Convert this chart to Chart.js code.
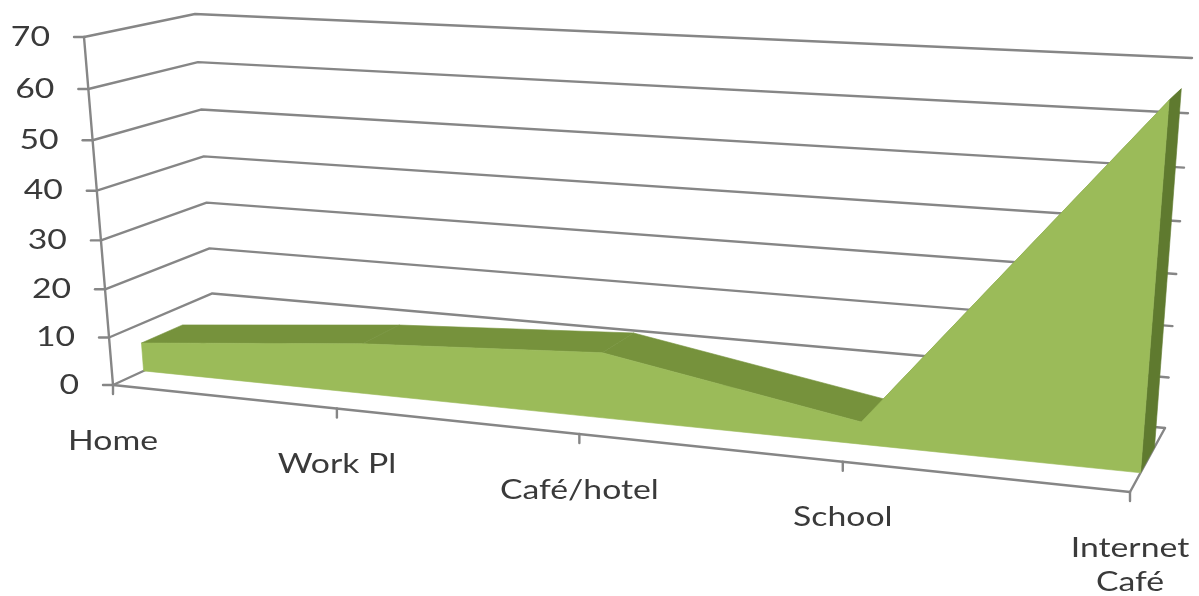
<!DOCTYPE html>
<html><head><meta charset="utf-8">
<style>html,body{margin:0;padding:0;background:#fff}canvas{display:block;filter:blur(0.5px)}</style>
<script src="https://cdn.jsdelivr.net/npm/chart.js@4/dist/chart.umd.js"></script>
</head><body>
<canvas id="c" width="1199" height="596"></canvas>
<script>
const categories = ['Home', 'Work Pl', 'Café/hotel', 'School', ['Internet', 'Café']];
const values = [6, 10.3, 13, 4.3, 66];
const yMin = 0, yMax = 70, yStep = 10;

// Perspective frame of the 3-D box (screen corners: left/right, bottom/top).
const frontPlane = [[113,385],[1130,492],[1162,84],[84,37]];
const backPlane  = [[215,338],[1165,428],[1192,58],[195,14]];
const areaDepthFront = 0.3, areaDepthBack = 0.7;
const colors = {front:'#9BBB59', top:'#76923C', side:'#5F7A2F', grid:'#868686', text:'#3A3A3A'};
const FONT = '27px Lato';
const textStretch = 1.25;

function homography(q){ // unit square -> quad
  const [[x0,y0],[x1,y1],[x2,y2],[x3,y3]] = q;
  const dx1=x1-x2, dx2=x3-x2, sx=x0-x1+x2-x3, dy1=y1-y2, dy2=y3-y2, sy=y0-y1+y2-y3;
  const det=dx1*dy2-dx2*dy1;
  const g=(sx*dy2-dx2*sy)/det, h=(dx1*sy-sx*dy1)/det;
  const a=x1-x0+g*x1, b=x3-x0+h*x3, c=x0, d=y1-y0+g*y1, e=y3-y0+h*y3, f=y0;
  return (u,v)=>{const w=g*u+h*v+1;return [(a*u+b*v+c)/w,(d*u+e*v+f)/w];};
}
const hFront = homography(frontPlane), hBack = homography(backPlane);
function project(chart, px, py, depth){
  const a = chart.chartArea;
  const u = (px-a.left)/(a.right-a.left), v = (a.bottom-py)/(a.bottom-a.top);
  const f = hFront(u,v), b = hBack(u,v);
  return [f[0]+(b[0]-f[0])*depth, f[1]+(b[1]-f[1])*depth];
}
function poly(ctx, pts, fill){
  ctx.beginPath(); pts.forEach((p,i)=>i?ctx.lineTo(p[0],p[1]):ctx.moveTo(p[0],p[1])); ctx.closePath();
  ctx.fillStyle=fill; ctx.strokeStyle=fill; ctx.lineWidth=0.6; ctx.fill(); ctx.stroke();
}
function seg(ctx,a,b){ctx.beginPath();ctx.moveTo(a[0],a[1]);ctx.lineTo(b[0],b[1]);ctx.stroke();}
function stretchedText(ctx,s,x,y){
  ctx.save(); ctx.translate(x,y); ctx.scale(textStretch,1); ctx.fillText(s,0,0); ctx.restore();
}

class Area3D extends Chart.LineController {
  draw(){
    const chart=this.chart, ctx=chart.ctx, pts=this.getMeta().data, base=chart.scales.y.getPixelForValue(0);
    const P=(x,y,d)=>project(chart,x,y,d);
    ctx.save();
    for(let i=0;i<pts.length-1;i++){
      const p=pts[i],q=pts[i+1];
      poly(ctx,[P(p.x,p.y,areaDepthFront),P(q.x,q.y,areaDepthFront),P(q.x,q.y,areaDepthBack),P(p.x,p.y,areaDepthBack)],colors.top);
    }
    const l=pts[pts.length-1];
    poly(ctx,[P(l.x,base,areaDepthFront),P(l.x,l.y,areaDepthFront),P(l.x,l.y,areaDepthBack),P(l.x,base,areaDepthBack)],colors.side);
    const face=pts.map(p=>P(p.x,p.y,areaDepthFront));
    for(let i=pts.length-1;i>=0;i--) face.push(P(pts[i].x,base,areaDepthFront));
    poly(ctx,face,colors.front);
    ctx.restore();
  }
}
Area3D.id='area3d'; Area3D.defaults=Chart.LineController.defaults;
Chart.register(Area3D);

const frame3D = {
  id:'frame3D',
  beforeDatasetsDraw(chart){
    const ctx=chart.ctx, x=chart.scales.x, y=chart.scales.y, a=chart.chartArea;
    ctx.save(); ctx.strokeStyle=colors.grid; ctx.lineWidth=2.4; ctx.lineCap='round'; ctx.lineJoin='round';
    y.ticks.forEach(t=>{
      const py=y.getPixelForValue(t.value);
      const f=project(chart,a.left,py,0), b=project(chart,a.left,py,1), r=project(chart,a.right,py,1);
      ctx.beginPath(); ctx.moveTo(f[0],f[1]); ctx.lineTo(b[0],b[1]); ctx.lineTo(r[0],r[1]); ctx.stroke();
      seg(ctx,[f[0]-10,f[1]],f);
    });
    const py0=y.getPixelForValue(yMin), pyT=y.getPixelForValue(yMax);
    seg(ctx,project(chart,a.left,py0,0),project(chart,a.left,pyT,0));
    seg(ctx,project(chart,a.left,py0,0),project(chart,a.right,py0,0));
    seg(ctx,project(chart,a.right,py0,0),project(chart,a.right,py0,1));
    x.ticks.forEach((t,i)=>{
      const p=project(chart,x.getPixelForValue(i),py0,0);
      seg(ctx,p,[p[0],p[1]+9]);
    });
    ctx.restore();
  },
  afterDraw(chart){
    const ctx=chart.ctx, x=chart.scales.x, y=chart.scales.y, a=chart.chartArea;
    ctx.save(); ctx.fillStyle=colors.text; ctx.font=FONT; ctx.textBaseline='middle';
    ctx.textAlign='right';
    y.ticks.forEach(t=>{
      const p=project(chart,a.left,y.getPixelForValue(t.value),0);
      stretchedText(ctx,String(t.value),p[0]-34,p[1]);
    });
    ctx.textAlign='center';
    const py0=y.getPixelForValue(yMin);
    categories.forEach((c,i)=>{
      const p=project(chart,x.getPixelForValue(i),py0,0);
      const lines=Array.isArray(c)?c:[c];
      lines.forEach((s,k)=>stretchedText(ctx,s,p[0],p[1]+56+k*34));
    });
    ctx.restore();
  }
};

new Chart(document.getElementById('c'),{
  type:'area3d',
  data:{labels:categories,datasets:[{label:'Series',data:values,backgroundColor:colors.front,borderColor:colors.front,pointRadius:0}]},
  options:{
    responsive:false,animation:false,
    layout:{padding:0},
    plugins:{legend:{display:false},tooltip:{enabled:false},title:{display:false}},
    scales:{
      x:{type:'category',display:false,offset:false},
      y:{type:'linear',display:false,min:yMin,max:yMax,ticks:{stepSize:yStep}}
    }
  },
  plugins:[frame3D]
});
</script>
</body></html>
